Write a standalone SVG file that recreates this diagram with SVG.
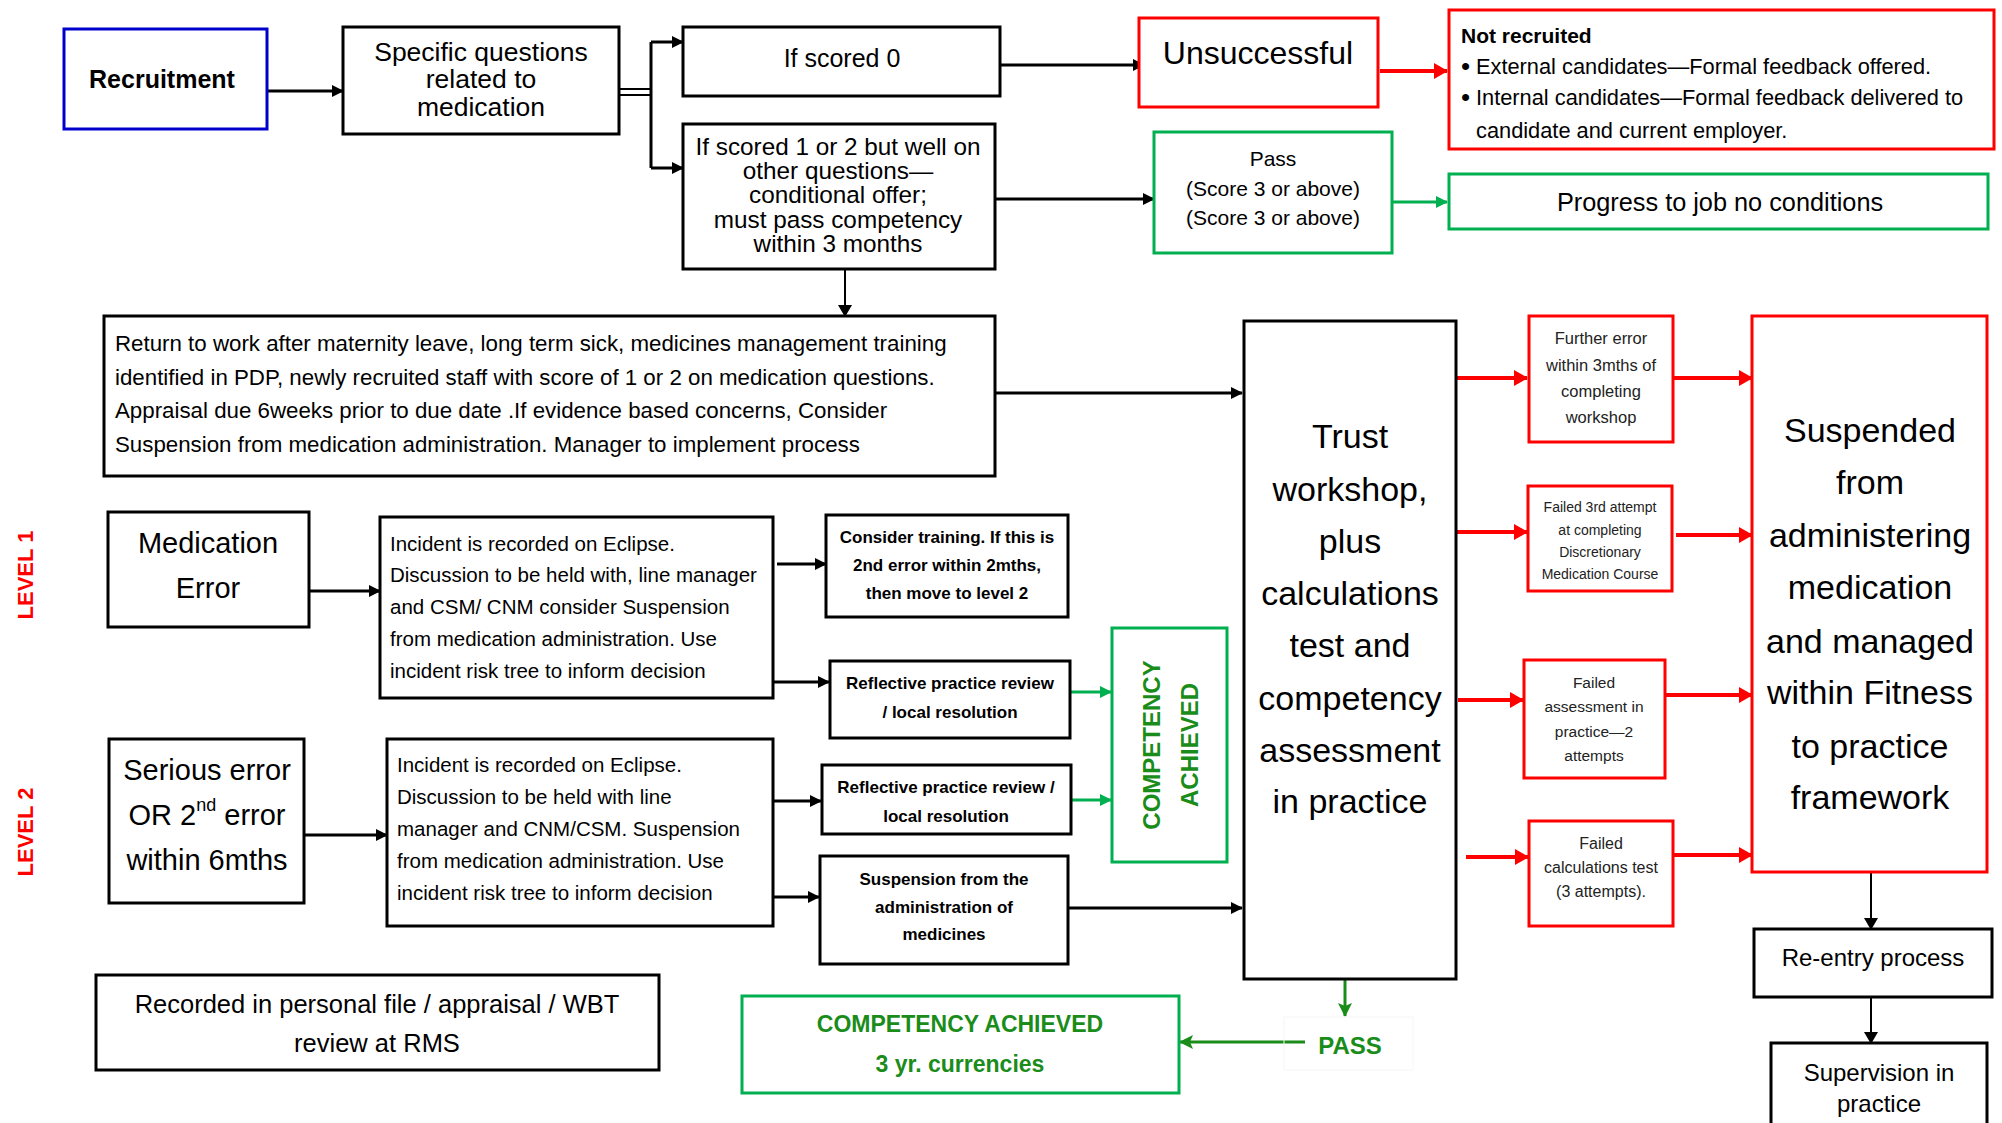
<svg xmlns="http://www.w3.org/2000/svg" width="2002" height="1123" viewBox="0 0 2002 1123">
<defs>
<style>
text{font-family:"Liberation Sans",Arial,sans-serif;fill:#000}
.c{text-anchor:middle;dominant-baseline:central}
.l{dominant-baseline:central}
.b{font-weight:bold}
.box{fill:#fff;stroke:#000;stroke-width:3}
.rbox{fill:#fff;stroke:#ff0000;stroke-width:3}
.gbox{fill:#fff;stroke:#00b050;stroke-width:3}
.bbox{fill:#fff;stroke:#0000cc;stroke-width:3}
.ck{stroke:#000;stroke-width:3;fill:none}
.ct{stroke:#000;stroke-width:2;fill:none}
.cr{stroke:#ff0000;stroke-width:4;fill:none}
.cg{stroke:#00b050;stroke-width:3;fill:none}
.cdg{stroke:#1a8c1a;stroke-width:3;fill:none}
.red{fill:#ff0000}
.grn{fill:#1a8c1a}
.rt{fill:#222}
</style>
<marker id="ak" viewBox="0 0 12 12" refX="11" refY="6" markerWidth="12" markerHeight="12" orient="auto" markerUnits="userSpaceOnUse"><path d="M0,0L12,6L0,12z" fill="#000"/></marker>
<marker id="akt" viewBox="0 0 12 14" refX="11" refY="7" markerWidth="12" markerHeight="14" orient="auto" markerUnits="userSpaceOnUse"><path d="M0,0L12,7L0,14z" fill="#000"/></marker>
<marker id="ar" viewBox="0 0 14 16" refX="13" refY="8" markerWidth="14" markerHeight="16" orient="auto" markerUnits="userSpaceOnUse"><path d="M0,0L14,8L0,16z" fill="#ff0000"/></marker>
<marker id="ag" viewBox="0 0 12 12" refX="11" refY="6" markerWidth="12" markerHeight="12" orient="auto" markerUnits="userSpaceOnUse"><path d="M0,0L12,6L0,12z" fill="#00b050"/></marker>
<marker id="adg" viewBox="0 0 14 14" refX="13" refY="7" markerWidth="14" markerHeight="14" orient="auto" markerUnits="userSpaceOnUse"><path d="M0,0L14,7L0,14L3,7z" fill="#1a8c1a"/></marker>
</defs>
<rect width="2002" height="1123" fill="#fff"/>

<g id="connectors">
<path class="ck" d="M267,91H343" marker-end="url(#ak)"/>
<path class="ct" d="M619,89H651M619,95H651"/>
<path class="ck" d="M651,42V168"/>
<path class="ck" d="M651,42H683" marker-end="url(#ak)"/>
<path class="ck" d="M651,168H683" marker-end="url(#ak)"/>
<path class="ck" d="M1000,65H1144" marker-end="url(#ak)"/>
<path class="ck" d="M995,199H1154" marker-end="url(#ak)"/>
<path class="ct" d="M845,269V316" marker-end="url(#akt)"/>
<path class="cr" d="M1380,71H1447" marker-end="url(#ar)"/>
<path class="cg" d="M1393,202H1447" marker-end="url(#ag)"/>
<path class="ck" d="M995,393H1242" marker-end="url(#ak)"/>
<path class="ck" d="M310,591H380" marker-end="url(#ak)"/>
<path class="ck" d="M777,564H826" marker-end="url(#ak)"/>
<path class="ck" d="M773,682H829" marker-end="url(#ak)"/>
<path class="cg" d="M1069,692H1111" marker-end="url(#ag)"/>
<path class="ck" d="M304,835H387" marker-end="url(#ak)"/>
<path class="ck" d="M773,801H821" marker-end="url(#ak)"/>
<path class="ck" d="M773,897H819" marker-end="url(#ak)"/>
<path class="cg" d="M1071,800H1111" marker-end="url(#ag)"/>
<path class="ck" d="M1068,908H1242" marker-end="url(#ak)"/>
<path class="cr" d="M1457,378H1527" marker-end="url(#ar)"/>
<path class="cr" d="M1457,532H1527" marker-end="url(#ar)"/>
<path class="cr" d="M1458,700H1523" marker-end="url(#ar)"/>
<path class="cr" d="M1466,857H1528" marker-end="url(#ar)"/>
<path class="cr" d="M1674,378H1752" marker-end="url(#ar)"/>
<path class="cr" d="M1676,535H1752" marker-end="url(#ar)"/>
<path class="cr" d="M1666,695H1752" marker-end="url(#ar)"/>
<path class="cr" d="M1666,855H1752" marker-end="url(#ar)"/>
<path class="ct" d="M1871,872V929" marker-end="url(#akt)"/>
<path class="ct" d="M1871,997V1043" marker-end="url(#akt)"/>
<path class="cdg" d="M1345,979V1016" marker-end="url(#adg)"/>
<path class="cdg" d="M1305,1042H1180" marker-end="url(#adg)"/>
</g>

<g id="recruitment"><rect class="bbox" x="64" y="29" width="203" height="100"/><text class="c b" x="162" y="79" font-size="25">Recruitment</text></g>

<g id="specific-questions"><rect class="box" x="343" y="27" width="276" height="107"/>
<text class="c" font-size="26.5" x="481"><tspan x="481" y="52">Specific questions</tspan><tspan x="481" y="79">related to</tspan><tspan x="481" y="107">medication</tspan></text></g>

<g id="scored-0"><rect class="box" x="683" y="27" width="317" height="69"/><text class="c" x="842" y="58" font-size="25">If scored 0</text></g>

<g id="scored-1-2"><rect class="box" x="683" y="124" width="312" height="145"/>
<text class="c" font-size="24.3" x="838"><tspan x="838" y="146">If scored 1 or 2 but well on</tspan><tspan x="838" y="170">other questions—</tspan><tspan x="838" y="194">conditional offer;</tspan><tspan x="838" y="219">must pass competency</tspan><tspan x="838" y="243">within 3 months</tspan></text></g>

<g id="unsuccessful"><rect class="rbox" x="1139" y="18" width="239" height="89"/><text class="c" x="1258" y="53" font-size="32">Unsuccessful</text></g>

<g id="not-recruited"><rect class="rbox" x="1449" y="10" width="545" height="139"/>
<text class="l b" x="1461" y="35" font-size="21">Not recruited</text>
<text class="l" x="1461" y="66" font-size="26">•</text><text class="l" x="1476" y="66" font-size="21.8">External candidates—Formal feedback offered.</text>
<text class="l" x="1461" y="97" font-size="26">•</text><text class="l" x="1476" y="97" font-size="21.8">Internal candidates—Formal feedback delivered to</text>
<text class="l" x="1476" y="130" font-size="21.8">candidate and current employer.</text></g>

<g id="pass-score"><rect class="gbox" x="1154" y="132" width="238" height="121"/>
<text class="c" font-size="21" x="1273"><tspan x="1273" y="158">Pass</tspan><tspan x="1273" y="188">(Score 3 or above)</tspan><tspan x="1273" y="217">(Score 3 or above)</tspan></text></g>

<g id="progress"><rect class="gbox" x="1449" y="174" width="539" height="55"/><text class="c" x="1720" y="202" font-size="25.3">Progress to job no conditions</text></g>

<g id="return-to-work"><rect class="box" x="104" y="316" width="891" height="160"/>
<text class="l" font-size="22.3" x="115"><tspan x="115" y="343">Return to work after maternity leave, long term sick, medicines management training</tspan><tspan x="115" y="377">identified in PDP, newly recruited staff with score of 1 or 2 on medication questions.</tspan><tspan x="115" y="410">Appraisal due 6weeks prior to due date .If evidence based concerns, Consider</tspan><tspan x="115" y="444">Suspension from medication administration. Manager to implement process</tspan></text></g>

<g id="trust-workshop"><rect class="box" x="1244" y="321" width="212" height="658" stroke-width="3.5"/>
<text class="c" font-size="34" x="1350"><tspan x="1350" y="436">Trust</tspan><tspan x="1350" y="489">workshop,</tspan><tspan x="1350" y="541">plus</tspan><tspan x="1350" y="593">calculations</tspan><tspan x="1350" y="645">test and</tspan><tspan x="1350" y="698">competency</tspan><tspan x="1350" y="750">assessment</tspan><tspan x="1350" y="801">in practice</tspan></text></g>

<g id="further-error"><rect class="rbox" x="1529" y="316" width="144" height="126"/>
<text class="c rt" font-size="16.5" x="1601"><tspan x="1601" y="338">Further error</tspan><tspan x="1601" y="365">within 3mths of</tspan><tspan x="1601" y="391">completing</tspan><tspan x="1601" y="417">workshop</tspan></text></g>

<g id="failed-3rd"><rect class="rbox" x="1528" y="486" width="144" height="105"/>
<text class="c rt" font-size="14" x="1600"><tspan x="1600" y="507">Failed 3rd attempt</tspan><tspan x="1600" y="530">at completing</tspan><tspan x="1600" y="552">Discretionary</tspan><tspan x="1600" y="574">Medication Course</tspan></text></g>

<g id="failed-assessment"><rect class="rbox" x="1524" y="660" width="141" height="118"/>
<text class="c rt" font-size="15.5" x="1594"><tspan x="1594" y="682">Failed</tspan><tspan x="1594" y="706">assessment in</tspan><tspan x="1594" y="731">practice—2</tspan><tspan x="1594" y="755">attempts</tspan></text></g>

<g id="failed-calculations"><rect class="rbox" x="1529" y="821" width="144" height="105"/>
<text class="c rt" font-size="16" x="1601"><tspan x="1601" y="843">Failed</tspan><tspan x="1601" y="867">calculations test</tspan><tspan x="1601" y="891">(3 attempts).</tspan></text></g>

<g id="suspended"><rect class="rbox" x="1752" y="316" width="235" height="556"/>
<text class="c" font-size="34" x="1870"><tspan x="1870" y="430">Suspended</tspan><tspan x="1870" y="482">from</tspan><tspan x="1870" y="535">administering</tspan><tspan x="1870" y="587">medication</tspan><tspan x="1870" y="641">and managed</tspan><tspan x="1870" y="692">within Fitness</tspan><tspan x="1870" y="746">to practice</tspan><tspan x="1870" y="797">framework</tspan></text></g>

<g id="re-entry"><rect class="box" x="1754" y="929" width="238" height="68"/><text class="c" x="1873" y="957" font-size="24">Re-entry process</text></g>

<g id="supervision"><rect class="box" x="1771" y="1043" width="216" height="90"/>
<text class="c" font-size="24" x="1879"><tspan x="1879" y="1072">Supervision in</tspan><tspan x="1879" y="1103">practice</tspan></text></g>

<g id="level-1"><text class="c b red" font-size="22" transform="translate(25,575) rotate(-90)" x="0" y="0">LEVEL 1</text></g>
<g id="level-2"><text class="c b red" font-size="22" transform="translate(25,832) rotate(-90)" x="0" y="0">LEVEL 2</text></g>

<g id="medication-error"><rect class="box" x="108" y="512" width="201" height="115"/>
<text class="c" font-size="29" x="208"><tspan x="208" y="543">Medication</tspan><tspan x="208" y="588">Error</tspan></text></g>

<g id="incident-l1"><rect class="box" x="380" y="517" width="393" height="181"/>
<text class="l" font-size="20.5" x="390"><tspan x="390" y="543">Incident is recorded on Eclipse.</tspan><tspan x="390" y="574">Discussion to be held with, line manager</tspan><tspan x="390" y="606">and CSM/ CNM consider Suspension</tspan><tspan x="390" y="638">from medication administration. Use</tspan><tspan x="390" y="670">incident risk tree to inform decision</tspan></text></g>

<g id="consider-training"><rect class="box" x="826" y="515" width="242" height="102"/>
<text class="c b" font-size="17" x="947"><tspan x="947" y="537">Consider training. If this is</tspan><tspan x="947" y="565">2nd error within 2mths,</tspan><tspan x="947" y="593">then move to level 2</tspan></text></g>

<g id="reflective-l1"><rect class="box" x="830" y="661" width="240" height="77"/>
<text class="c b" font-size="17" x="950"><tspan x="950" y="683">Reflective practice review</tspan><tspan x="950" y="712">/ local resolution</tspan></text></g>

<g id="competency-vertical"><rect class="gbox" x="1112" y="628" width="115" height="234"/>
<text class="c b grn" font-size="24" transform="translate(1151,745) rotate(-90)" x="0" y="0">COMPETENCY</text>
<text class="c b grn" font-size="24" transform="translate(1189,745) rotate(-90)" x="0" y="0">ACHIEVED</text></g>

<g id="serious-error"><rect class="box" x="109" y="739" width="195" height="164"/>
<text class="c" font-size="29" x="207"><tspan x="207" y="770">Serious error</tspan><tspan x="207" y="815">OR 2<tspan font-size="18" dy="-10">nd</tspan><tspan dy="10"> error</tspan></tspan><tspan x="207" y="860">within 6mths</tspan></text></g>

<g id="incident-l2"><rect class="box" x="387" y="739" width="386" height="187"/>
<text class="l" font-size="20.5" x="397"><tspan x="397" y="764">Incident is recorded on Eclipse.</tspan><tspan x="397" y="796">Discussion to be held with line</tspan><tspan x="397" y="828">manager and CNM/CSM. Suspension</tspan><tspan x="397" y="860">from medication administration. Use</tspan><tspan x="397" y="892">incident risk tree to inform decision</tspan></text></g>

<g id="reflective-l2"><rect class="box" x="822" y="765" width="249" height="69"/>
<text class="c b" font-size="17" x="946"><tspan x="946" y="787">Reflective practice review /</tspan><tspan x="946" y="816">local resolution</tspan></text></g>

<g id="suspension-admin"><rect class="box" x="820" y="856" width="248" height="108"/>
<text class="c b" font-size="17" x="944"><tspan x="944" y="879">Suspension from the</tspan><tspan x="944" y="907">administration of</tspan><tspan x="944" y="934">medicines</tspan></text></g>

<g id="recorded"><rect class="box" x="96" y="975" width="563" height="95"/>
<text class="c" font-size="25.5" x="377"><tspan x="377" y="1004">Recorded in personal file / appraisal / WBT</tspan><tspan x="377" y="1043">review at RMS</tspan></text></g>

<g id="competency-3yr"><rect class="gbox" x="742" y="996" width="437" height="97"/>
<text class="c b grn" font-size="23" x="960"><tspan x="960" y="1024">COMPETENCY ACHIEVED</tspan><tspan x="960" y="1064">3 yr. currencies</tspan></text></g>

<g id="pass"><rect x="1284" y="1017" width="129" height="53" fill="none" stroke="#f6f6f6" stroke-width="1"/><text class="c b grn" x="1350" y="1045" font-size="24">PASS</text></g>
</svg>
